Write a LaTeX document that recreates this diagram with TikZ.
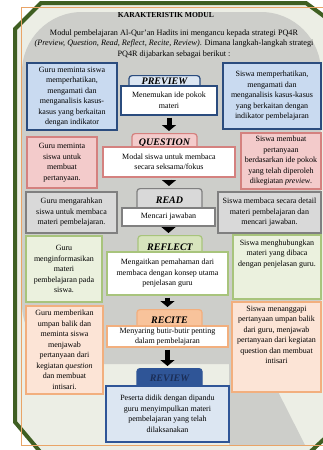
\documentclass[tikz,border=0pt]{standalone}
\usepackage{fontspec}
\setmainfont{Liberation Serif}
\usetikzlibrary{
  positioning,
  arrows.meta
}
\definecolor{bgivory}{HTML}{ECEEE5}
\definecolor{bggrey}{HTML}{CDCECA}
\definecolor{framegreen}{HTML}{3F5F22}
\definecolor{frameorange}{HTML}{E9A467}
\definecolor{blueline}{HTML}{2B4C7E}
\definecolor{bluefill}{HTML}{C9DAF0}
\definecolor{bluehead}{HTML}{DCE6F2}
\definecolor{redline}{HTML}{D4817F}
\definecolor{redfill}{HTML}{F3CBCB}
\definecolor{greyline}{HTML}{808080}
\definecolor{greyfill}{HTML}{D9D9D9}
\definecolor{greenline}{HTML}{A8C47C}
\definecolor{greenfill}{HTML}{EBF1DE}
\definecolor{greenhead}{HTML}{D7E4BD}
\definecolor{orangeline}{HTML}{F2AF7E}
\definecolor{orangefill}{HTML}{FCE4D6}
\definecolor{orangehead}{HTML}{F8C39B}
\definecolor{reviewhead}{HTML}{2F5597}
\definecolor{reviewtext}{HTML}{1B2E57}
\tikzset{%
  every node/.style={font=\fontsize{8}{10.5}\selectfont}, % body text of all boxes
  sidebox/.style={draw, line width=1.6pt, align=center, inner sep=0pt},
  stepbox/.style={draw, fill=white, line width=1.2pt, align=center, inner sep=0pt},
  headbox/.style={draw, rounded corners=3pt, line width=1.2pt, anchor=north,
    inner sep=0pt, font=\fontsize{10}{12}\selectfont\bfseries\itshape},
  flow/.style={draw, line width=5pt, -{Triangle[length=6pt,width=14pt]},
    shorten >= 2pt, shorten <= 2pt}
}

\begin{document}
\begin{tikzpicture}[x=1pt,y=-1pt]
  \useasboundingbox (0,0) rectangle (323,450);
  % background
  \fill[white] (0,0) rectangle (323,450);
  \draw[framegreen, line width=4pt, fill=bgivory] (15,29) -- (41,3) -- (306,3) -- (336,25)
    -- (336,428) -- (308,454) -- (42,454) -- (15,422) -- cycle;
  \fill[bggrey, rounded corners=60pt] (22,12) rectangle (321,364);
  \fill[bggrey] (229,360) -- (262,360) -- (305,445) -- (229,445) -- cycle;
  \draw[frameorange, line width=1pt] (21,7) rectangle (326,445);

  % title and intro
  \node[font=\fontsize{7.6}{10}\selectfont\bfseries] (title) at (166,15) {KARAKTERISTIK MODUL};
  \node[align=center, font=\fontsize{8.2}{10.6}\selectfont] (intro) at (174,44)
    {Modul pembelajaran Al-Qur’an Hadits ini mengancu kepada strategi PQ4R\\
     \textit{(Preview, Question, Read, Reflect, Recite, Review)}. Dimana langkah-langkah strategi\\
     PQ4R dijabarkan sebagai berikut :};

  % headers (drawn first, the step boxes cover their lower part)
  \node[headbox, fill=bluehead, draw=blueline, minimum width=71pt,
    text height=9pt, text depth=8pt] (h1) at (164.5,75) {PREVIEW};
  \node[headbox, fill=redfill, draw=redline, minimum width=65pt,
    text height=12pt, text depth=8pt] (h2) at (164.5,133) {QUESTION};
  \node[headbox, fill=greyfill, draw=greyline, minimum width=65pt,
    text height=15pt, text depth=11pt] (h3) at (169.5,188) {READ};
  \node[headbox, fill=greenhead, draw=greenline, minimum width=64pt,
    text height=15pt, text depth=8pt] (h4) at (170,235) {REFLECT};
  \node[headbox, fill=orangehead, draw=orangeline, minimum width=65pt,
    text height=14pt, text depth=9pt] (h5) at (169.5,309) {RECITE};
  \node[headbox, fill=reviewhead, draw=reviewhead, text=reviewtext, minimum width=65pt,
    text height=13pt, text depth=11pt] (h6) at (169.5,368) {REVIEW};

  % step boxes
  \node[stepbox, draw=blueline, minimum width=96pt, minimum height=29pt] (w1) at (169,100.5)
    {Menemukan ide pokok\\ materi};
  \node[stepbox, draw=redline, minimum width=132pt, minimum height=30pt] (w2) at (169,162)
    {Modal siswa untuk membaca\\ secara seksama/fokus};
  \node[stepbox, draw=greyline, minimum width=93pt, minimum height=18pt] (w3) at (168.5,217)
    {Mencari jawaban};
  \node[stepbox, draw=greenline, minimum width=121pt, minimum height=43pt] (w4) at (167.5,273.5)
    {Mengaitkan pemahaman dari\\ membaca dengan konsep utama\\ penjelasan guru};
  \node[stepbox, draw=orangeline, minimum width=121pt, minimum height=21pt] (w5) at (167.5,336.5)
    {Menyaring butir-butir penting\\ dalam pembelajaran};
  \node[stepbox, draw=reviewhead, fill=bluehead, minimum width=123pt, minimum height=56pt] (w6) at (167.5,414)
    {Peserta didik dengan dipandu\\ guru menyimpulkan materi\\ pembelajaran yang telah\\ dilaksanakan};

  \foreach \i [count=\j from 2] in {1,...,5}{%
    \draw[flow] (w\i.south) -- (w\i.south |- h\j.north);
  }

  % guru (left)
  \node[sidebox, draw=blueline, fill=bluefill, minimum width=90pt, minimum height=67pt] (g1) at (72,96.5)
    {Guru meminta siswa\\ memperhatikan,\\ mengamati dan\\ menganalisis kasus-\\ kasus yang berkaitan\\ dengan indikator};
  \node[sidebox, draw=redline, fill=redfill, minimum width=70pt, minimum height=51pt] (g2) at (62,162.5)
    {Guru meminta\\ siswa untuk\\ membuat\\ pertanyaan.};
  \node[sidebox, draw=greyline, fill=greyfill, minimum width=91pt, minimum height=41pt] (g3) at (71.5,212.5)
    {Guru mengarahkan\\ siswa untuk membaca\\ materi pembelajaran.};
  \node[sidebox, draw=greenline, fill=greenfill, minimum width=76pt, minimum height=66pt] (g4) at (64,269)
    {Guru\\ menginformasikan\\ materi\\ pembelajaran pada\\ siswa.};
  \node[sidebox, draw=orangeline, fill=orangefill, minimum width=77pt, minimum height=88pt] (g5) at (64.5,350)
    {Guru memberikan\\ umpan balik dan\\ meminta siswa\\ menjawab\\ pertanyaan dari\\ kegiatan \textit{question}\\ dan membuat\\ intisari.};

  % siswa (right)
  \node[sidebox, draw=blueline, fill=bluefill, minimum width=98pt, minimum height=66pt] (s1) at (272,96)
    {Siswa memperhatikan,\\ mengamati dan\\ menganalisis kasus-kasus\\ yang berkaitan dengan\\ indikator pembelajaran};
  \node[sidebox, draw=redline, fill=redfill, minimum width=80pt, minimum height=56pt] (s2) at (281,161)
    {Siswa membuat\\ pertanyaan\\ berdasarkan ide pokok\\ yang telah diperoleh\\ dikegiatan \textit{preview}.};
  \node[sidebox, draw=greyline, fill=greyfill, minimum width=103pt, minimum height=41pt] (s3) at (269.5,212.5)
    {Siswa membaca secara detail\\ materi pembelajaran dan\\ mencari jawaban.};
  \node[sidebox, draw=greenline, fill=greenfill, minimum width=88pt, minimum height=64pt, text depth=28pt] (s4) at (277,267)
    {Siswa menghubungkan\\ materi yang dibaca\\ dengan penjelasan guru.};
  \node[sidebox, draw=orangeline, fill=orangefill, minimum width=89pt, minimum height=90pt, text depth=24pt] (s5) at (276.5,347)
    {Siswa menanggapi\\ pertanyaan umpan balik\\ dari guru, menjawab\\ pertanyaan dari kegiatan\\ question dan membuat\\ intisari};
\end{tikzpicture}
\end{document}
